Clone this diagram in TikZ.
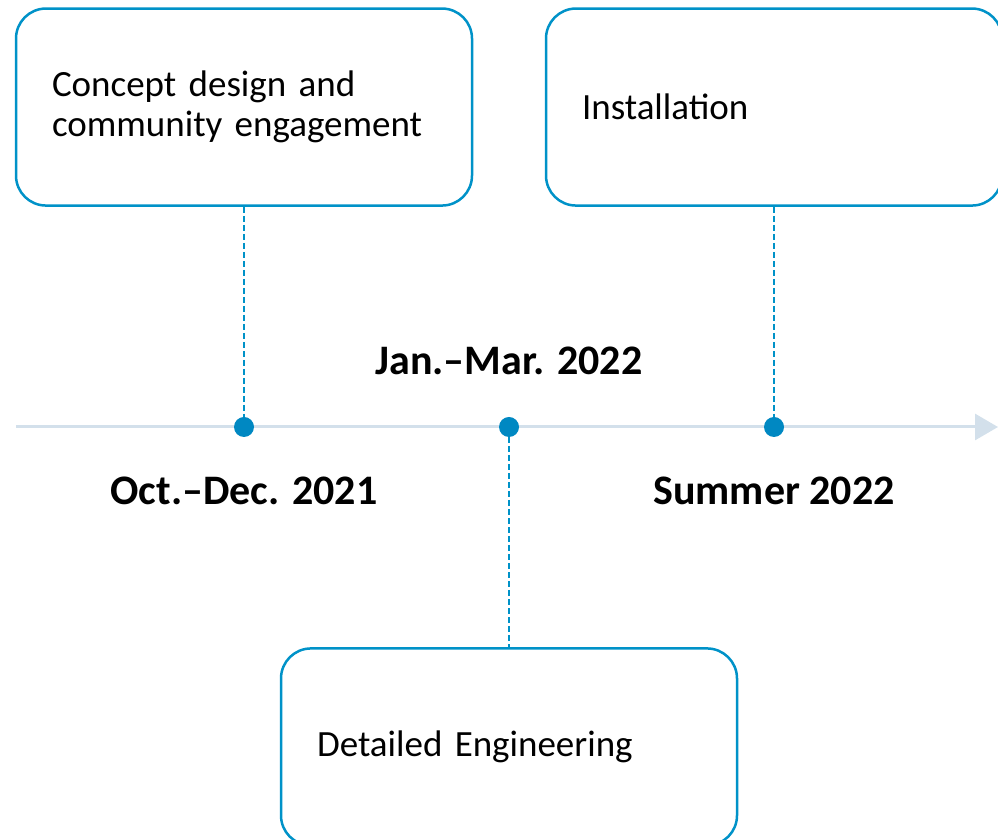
\documentclass[tikz,border=0pt]{standalone}
\usepackage{fontspec}
\setmainfont{Carlito}
\usetikzlibrary{positioning,arrows.meta}
\definecolor{stageblue}{HTML}{0092C8}
\definecolor{dotblue}{HTML}{0088C2}
\definecolor{axisgray}{HTML}{D3E0EB}

\begin{document}
\begin{tikzpicture} [
        x=1pt, y=1pt,
        stagenode/.style={
            rectangle,
            rounded corners=30pt,
            draw=stageblue,
            line width=2.5pt,
            minimum width=456pt,
            minimum height=197pt,
            text width=384pt,
            inner xsep=36pt,
            align=left,
            font=\fontsize{37}{40}\selectfont
        },
        datenode/.style={
            font=\fontsize{42}{48}\selectfont\bfseries
        },
        dotnode/.style={
            circle,
            fill=dotblue,
            minimum size=20pt,
            inner sep=0pt
        },
        leader/.style={
            draw=stageblue,
            line width=1.2pt,
            dash pattern=on 6pt off 3pt
        },
        axisline/.style={
            draw=axisgray,
            line width=3pt,
            -{Triangle[length=23pt, width=26pt]}
        }
    ]

        \useasboundingbox (0,0) rectangle (998,840);

        \coordinate (axisstart) at (16,413);
        \coordinate (axisend)   at (998,413);
        \draw[axisline] (axisstart) -- (axisend);

        \node[dotnode] (dot1) at (244,413) {};
        \node[dotnode] (dot2) at (509,413) {};
        \node[dotnode] (dot3) at (774,413) {};

        \node[stagenode] (stage1) [above=210pt of dot1] {Concept design and\\community engagement};
        \node[stagenode] (stage2) [above=210pt of dot3] {Installation};
        \node[stagenode] (stage3) [below=210pt of dot2] {Detailed Engineering};

        \node[datenode]  (date1)  [below=36pt of dot1]  {Oct.–Dec. 2021};
        \node[datenode]  (date2)  [above=38pt of dot2]  {Jan.–Mar. 2022};
        \node[datenode]  (date3)  [below=36pt of dot3]  {Summer 2022};

        \draw[leader] (stage1) -- (dot1);
        \draw[leader] (stage2) -- (dot3);
        \draw[leader] (dot2)   -- (stage3);

    \end{tikzpicture}
\end{document}
